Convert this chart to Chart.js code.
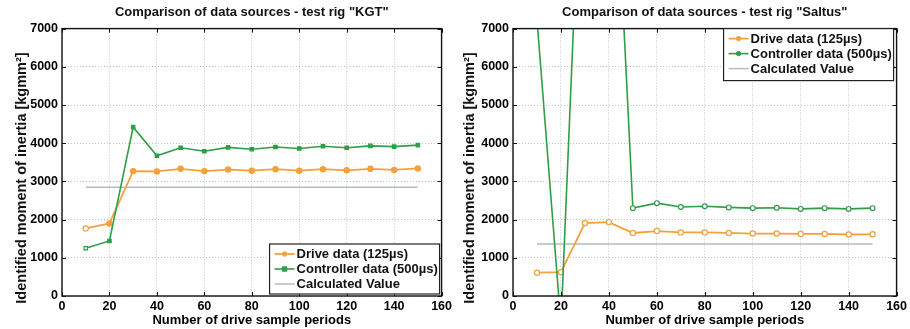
<!DOCTYPE html>
<html>
<head>
<meta charset="utf-8">
<script src="https://cdn.jsdelivr.net/npm/chart.js@4.4.0/dist/chart.umd.min.js"></script>
<style>
  html, body { margin: 0; padding: 0; background: #fff; }
  #wrap { position: relative; width: 910px; height: 329px; }
  canvas { position: absolute; top: 0; }
</style>
</head>
<body>
<div id="wrap">
  <canvas id="kgt" width="455" height="329" style="left:0"></canvas>
  <canvas id="saltus" width="455" height="329" style="left:455px"></canvas>
</div>
<script>
// sample periods on the x axis
const X_PERIODS = [10, 20, 30, 40, 50, 60, 70, 80, 90, 100, 110, 120, 130, 140, 150];
const X_TICKS = [0, 20, 40, 60, 80, 100, 120, 140, 160];
const Y_TICKS = [0, 1000, 2000, 3000, 4000, 5000, 6000, 7000];

// test rig "KGT"
const KGT_DRIVE = [1770, 1900, 3270, 3260, 3330, 3270, 3310, 3280, 3320, 3280, 3320, 3290, 3330, 3300, 3340];
const KGT_CTRL = [1250, 1440, 4420, 3670, 3880, 3790, 3890, 3840, 3900, 3860, 3920, 3880, 3930, 3910, 3950];
const KGT_CALC = 2850;

// test rig "Saltus" (controller values at 10..40 run off the plot)
const SALTUS_DRIVE = [610, 625, 1910, 1935, 1650, 1700, 1665, 1665, 1650, 1635, 1635, 1625, 1625, 1610, 1615];
const SALTUS_CTRL = [7240, -750, 14200, 15000, 2300, 2430, 2330, 2350, 2320, 2300, 2310, 2280, 2300, 2280, 2300];
const SALTUS_CALC = 1360;

const ORANGE = '#f5a03a';
const GREEN = '#2f9e47';
const GREY = '#b3bcc0';
const GRID = '#bcc6cc';
const FONT = '"Liberation Sans", Arial, sans-serif';

Chart.defaults.font.family = FONT;
Chart.defaults.color = '#000';

function drawMarker(ctx, style, x, y, r, fill, stroke, lw) {
  ctx.beginPath();
  if (style === 'rect') ctx.rect(x - r, y - r, 2 * r, 2 * r);
  else ctx.arc(x, y, r, 0, Math.PI * 2);
  ctx.fillStyle = fill;
  ctx.fill();
  ctx.strokeStyle = stroke;
  ctx.lineWidth = lw;
  ctx.stroke();
}

// black box round the plot with inward tick marks (matlab look)
const framePlugin = {
  id: 'frame',
  afterDraw(chart) {
    const { ctx, chartArea: a, scales: { x, y } } = chart;
    ctx.save();
    ctx.strokeStyle = '#111';
    ctx.lineWidth = 1;
    ctx.beginPath();
    x.ticks.forEach(t => {
      const px = Math.round(x.getPixelForValue(t.value)) + 0.5;
      ctx.moveTo(px, a.bottom); ctx.lineTo(px, a.bottom - 4);
      ctx.moveTo(px, a.top); ctx.lineTo(px, a.top + 4);
    });
    y.ticks.forEach(t => {
      const py = Math.round(y.getPixelForValue(t.value)) + 0.5;
      ctx.moveTo(a.left, py); ctx.lineTo(a.left + 4, py);
      ctx.moveTo(a.right, py); ctx.lineTo(a.right - 4, py);
    });
    ctx.stroke();
    ctx.lineWidth = 1.4;
    ctx.strokeRect(a.left, a.top, a.right - a.left, a.bottom - a.top);
    ctx.restore();
  }
};

// legend drawn inside the plot area, in a framed box
const boxLegend = {
  id: 'boxLegend',
  afterDraw(chart, args, opts) {
    const { ctx, chartArea: a } = chart;
    const w = opts.width, h = opts.height;
    const bx = a.right - w - opts.inset;
    const by = opts.corner === 'top' ? a.top : a.bottom - h - opts.inset;
    ctx.save();
    ctx.fillStyle = '#fff';
    ctx.fillRect(bx, by, w, h);
    ctx.strokeStyle = '#222';
    ctx.lineWidth = 1.2;
    ctx.strokeRect(bx, by, w, h);
    ctx.font = 'bold 13px ' + FONT;
    ctx.textBaseline = 'middle';
    chart.data.datasets.forEach((ds, i) => {
      const yy = by + 10 + i * 15;
      ctx.strokeStyle = ds.borderColor;
      ctx.lineWidth = ds.borderWidth;
      ctx.beginPath();
      ctx.moveTo(bx + 5, yy);
      ctx.lineTo(bx + 25, yy);
      ctx.stroke();
      if (ds.pointRadius > 0) {
        drawMarker(ctx, ds.pointStyle, bx + 15, yy, 2.2, ds.borderColor, ds.borderColor, 1);
      }
      ctx.fillStyle = '#111';
      ctx.fillText(ds.label, bx + 27, yy + 0.5);
    });
    ctx.restore();
  }
};

const yTitle = {
  id: 'yTitle',
  afterDraw(chart, args, opts) {
    const ctx = chart.ctx;
    ctx.save();
    ctx.translate(opts.x, opts.y);
    ctx.rotate(-Math.PI / 2);
    ctx.textAlign = 'center';
    ctx.textBaseline = 'middle';
    ctx.font = 'bold 14.5px ' + FONT;
    ctx.fillStyle = '#111';
    ctx.fillText('Identified moment of inertia [kgmm²]', 0, 0);
    ctx.restore();
  }
};

function buildChart(id, cfg) {
  const pts = vals => X_PERIODS.map((x, i) => ({ x, y: vals[i] }));
  const first = X_PERIODS[0], last = X_PERIODS[X_PERIODS.length - 1];

  return new Chart(document.getElementById(id), {
    type: 'line',
    data: {
      datasets: [
        {
          label: 'Drive data (125µs)',
          data: pts(cfg.drive),
          borderColor: ORANGE,
          borderWidth: 1.8,
          pointStyle: 'circle',
          pointRadius: 2.6,
          pointBorderWidth: 1.2,
          pointBackgroundColor: cfg.drive.map((v, i) => cfg.hollow || i === 0 ? '#fff' : ORANGE),
          order: 2
        },
        {
          label: 'Controller data (500µs)',
          data: pts(cfg.ctrl),
          borderColor: GREEN,
          borderWidth: 1.6,
          pointStyle: cfg.ctrlStyle,
          pointRadius: 2.4,
          pointBorderWidth: 1.2,
          pointBackgroundColor: cfg.ctrl.map((v, i) => cfg.hollow || i === 0 ? '#fff' : GREEN),
          order: 1
        },
        {
          label: 'Calculated Value',
          data: [{ x: first, y: cfg.calc }, { x: last, y: cfg.calc }],
          borderColor: GREY,
          borderWidth: 1.5,
          pointRadius: 0,
          order: 3
        }
      ]
    },
    options: {
      responsive: false,
      animation: false,
      devicePixelRatio: 1,
      layout: { padding: { left: 0, right: cfg.padRight, top: 0, bottom: 0 } },
      scales: {
        x: {
          type: 'linear',
          min: 0,
          max: 160,
          afterBuildTicks: s => { s.ticks = X_TICKS.map(v => ({ value: v })); },
          afterFit: s => { s.height = 33; },
          ticks: { font: { size: 12.5, weight: 'bold' }, padding: 3, maxRotation: 0, callback: v => String(v) },
          grid: { color: GRID, lineWidth: 1, drawTicks: false },
          border: { display: false, dash: [1, 2] },
          title: {
            display: true,
            text: 'Number of drive sample periods',
            font: { size: 13, weight: 'bold' },
            padding: { top: 0, bottom: 1 }
          }
        },
        y: {
          min: 0,
          max: 7000,
          afterBuildTicks: s => { s.ticks = Y_TICKS.map(v => ({ value: v })); },
          afterFit: s => { s.width = cfg.yWidth; },
          ticks: { font: { size: 12.5, weight: 'bold' }, padding: 4, callback: v => String(v) },
          grid: { color: GRID, lineWidth: 1, drawTicks: false },
          border: { display: false, dash: [1, 2] }
        }
      },
      plugins: {
        legend: { display: false },
        tooltip: { enabled: false },
        title: {
          display: true,
          fullSize: false,
          text: cfg.title,
          color: '#111',
          font: { size: 13, weight: 'bold' },
          padding: { top: 5, bottom: 8 }
        },
        boxLegend: cfg.legend,
        yTitle: cfg.yTitle
      }
    },
    plugins: [framePlugin, boxLegend, yTitle]
  });
}

buildChart('kgt', {
  title: 'Comparison of data sources - test rig "KGT"',
  drive: KGT_DRIVE,
  ctrl: KGT_CTRL,
  calc: KGT_CALC,
  ctrlStyle: 'rect',
  hollow: false,
  yWidth: 62,
  padRight: 8,
  legend: { corner: 'bottom', width: 170, height: 50, inset: 2 },
  yTitle: { x: 22, y: 178 }
});

buildChart('saltus', {
  title: 'Comparison of data sources - test rig "Saltus"',
  drive: SALTUS_DRIVE,
  ctrl: SALTUS_CTRL,
  calc: SALTUS_CALC,
  ctrlStyle: 'circle',
  hollow: true,
  yWidth: 58,
  padRight: 11,
  legend: { corner: 'top', width: 170, height: 52, inset: 3 },
  yTitle: { x: 15, y: 178 }
});
</script>
</body>
</html>
